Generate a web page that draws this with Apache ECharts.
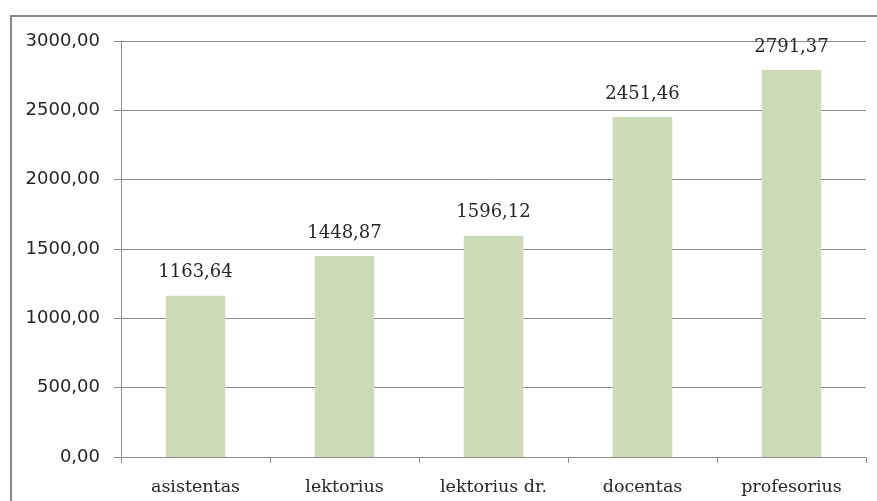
<!DOCTYPE html>
<html>
<head>
<meta charset="utf-8">
<script src="https://cdn.jsdelivr.net/npm/echarts@6/dist/echarts.min.js"></script>
<style>
html,body{margin:0;padding:0;background:#fff;}
#chart{width:877px;height:501px;}
</style>
</head>
<body>
<div id="chart"></div>
<script>
var categories = ['asistentas', 'lektorius', 'lektorius dr.', 'docentas', 'profesorius'];
var values = [1163.64, 1448.87, 1596.12, 2451.46, 2791.37];
var yTicks = { min: 0, max: 3000, interval: 500 };

function fmt(v) { return Number(v).toFixed(2).replace('.', ','); }

var chart = echarts.init(document.getElementById('chart'), null, { renderer: 'canvas' });
chart.setOption({
  animation: false,
  backgroundColor: '#ffffff',
  graphic: [{
    type: 'rect',
    shape: { x: 11, y: 16, width: 900, height: 520 },
    style: { fill: 'none', stroke: '#878787', lineWidth: 2 },
    silent: true
  }],
  grid: { left: 121, right: 11, top: 41, bottom: 44, containLabel: false },
  xAxis: {
    type: 'category',
    data: categories,
    axisLine: { show: true, lineStyle: { color: '#8c8c8c', width: 1 } },
    axisTick: { show: true, length: 6, alignWithLabel: false, lineStyle: { color: '#8c8c8c' } },
    axisLabel: { color: '#262626', fontFamily: 'DejaVu Serif', fontSize: 17.5, margin: 21, interval: 0 },
    splitLine: { show: false }
  },
  yAxis: {
    type: 'value',
    min: yTicks.min,
    max: yTicks.max,
    interval: yTicks.interval,
    axisLine: { show: true, lineStyle: { color: '#8c8c8c', width: 1 } },
    axisTick: { show: true, length: 7, inside: false, lineStyle: { color: '#8c8c8c' } },
    axisLabel: { color: '#262626', fontFamily: 'DejaVu Sans', fontSize: 18, margin: 21, formatter: fmt },
    splitLine: { show: true, lineStyle: { color: '#8c8c8c', width: 1 } }
  },
  series: [{
    type: 'bar',
    data: values,
    barCategoryGap: '60%',
    itemStyle: { color: '#cedbb8' },
    label: {
      show: true,
      position: 'top',
      distance: 14,
      color: '#262626',
      fontFamily: 'DejaVu Serif',
      fontSize: 18,
      formatter: function (p) { return fmt(p.value); }
    }
  }]
});
</script>
</body>
</html>
